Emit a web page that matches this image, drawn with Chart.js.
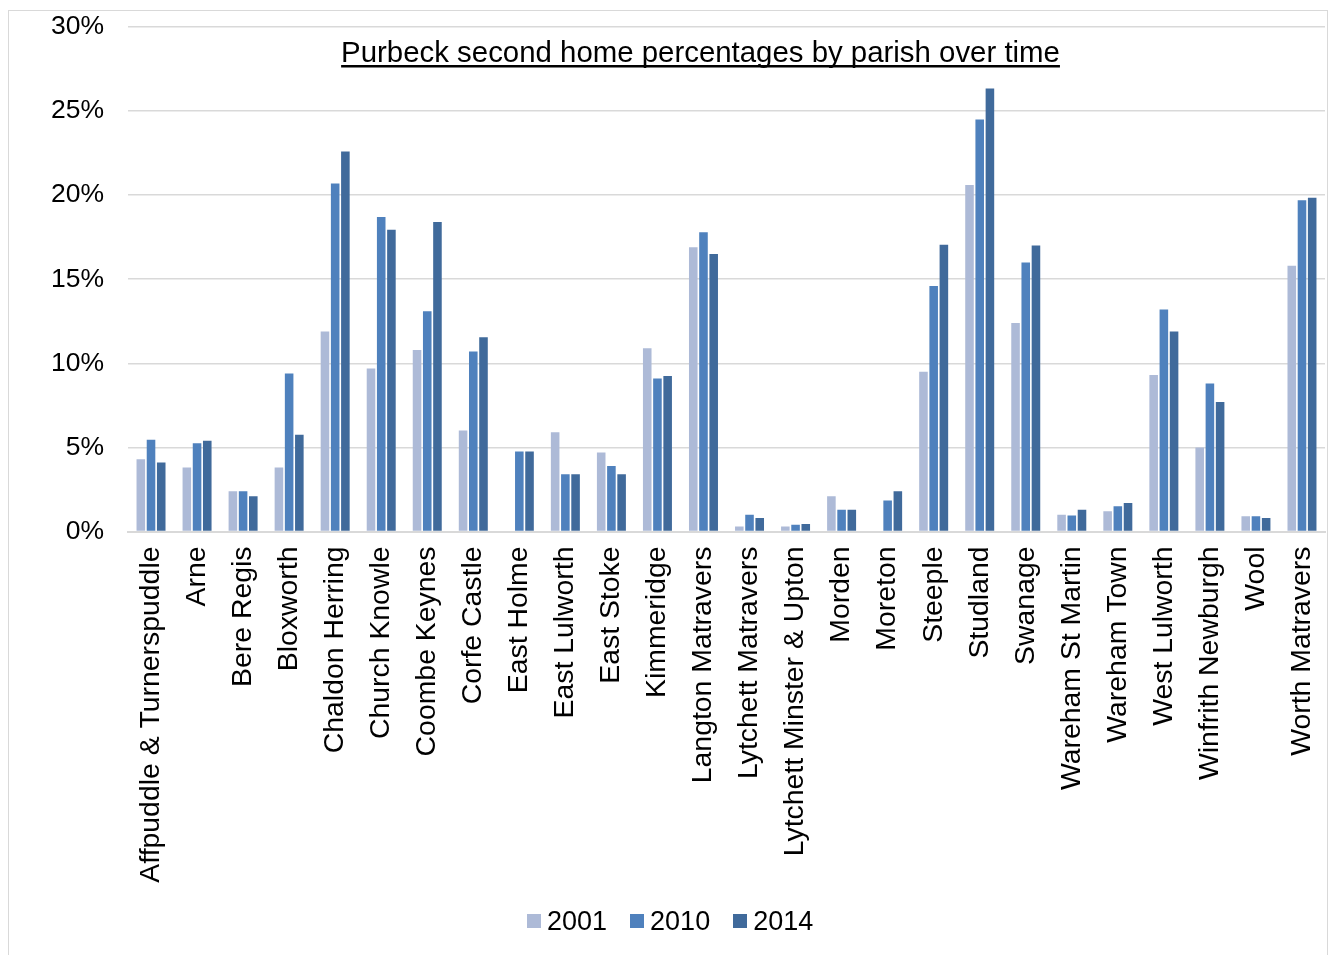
<!DOCTYPE html>
<html>
<head>
<meta charset="utf-8">
<script src="https://cdn.jsdelivr.net/npm/chart.js@4.4.1/dist/chart.umd.min.js"></script>
<style>
  html, body { margin:0; padding:0; background:#fff; overflow:hidden; width:1329px; height:955px; }
  #frame { position:absolute; left:8px; top:10px; width:1318px; height:960px; border:1px solid #d9d9d9; }
  #wrap { position:absolute; left:0; top:0; width:1329px; height:955px; }
  #legend { position:absolute; left:527px; top:901px; height:40px; display:flex; align-items:center;
            font-family:"Liberation Sans", Arial, sans-serif; font-size:27px; color:#000; }
  .item { display:flex; align-items:center; margin-right:23px; }
  .box { width:14px; height:14px; margin-right:6px; }
</style>
</head>
<body>
<div id="frame"></div>
<div id="wrap"><canvas id="c" width="1329" height="955"></canvas></div>
<div id="legend"></div>
<script>
const TITLE = "Purbeck second home percentages by parish over time";
const categories = ["Affpuddle & Turnerspuddle","Arne","Bere Regis","Bloxworth","Chaldon Herring","Church Knowle","Coombe Keynes","Corfe Castle","East Holme","East Lulworth","East Stoke","Kimmeridge","Langton Matravers","Lytchett Matravers","Lytchett Minster & Upton","Morden","Moreton","Steeple","Studland","Swanage","Wareham St Martin","Wareham Town","West Lulworth","Winfrith Newburgh","Wool","Worth Matravers"];
const seriesNames = ["2001","2010","2014"];
const v2001 = [4.3,3.8,2.4,3.8,11.9,9.7,10.8,6.0,0,5.9,4.7,10.9,16.9,0.3,0.3,2.1,0,9.5,20.6,12.4,1.0,1.2,9.3,5.0,0.9,15.8];
const v2010 = [5.45,5.25,2.4,9.4,20.7,18.7,13.1,10.7,4.75,3.4,3.9,9.1,17.8,1.0,0.4,1.3,1.85,14.6,24.5,16.0,0.95,1.5,13.2,8.8,0.9,19.7];
const v2014 = [4.1,5.4,2.1,5.75,22.6,17.95,18.4,11.55,4.75,3.4,3.4,9.25,16.5,0.8,0.45,1.3,2.4,17.05,26.35,17.0,1.3,1.7,11.9,7.7,0.8,19.85];
const yTicks = [0,5,10,15,20,25,30];
const colors = ["#adbad7","#4f81bd","#406a9b"];

const FONT = '"Liberation Sans", Arial, sans-serif';
const values = [v2001, v2010, v2014];

const titlePlugin = {
  id: 'underTitle',
  afterDraw(chart) {
    const ctx = chart.ctx, a = chart.chartArea;
    ctx.save();
    ctx.font = '29.4px ' + FONT;
    ctx.fillStyle = '#000';
    ctx.textAlign = 'center';
    ctx.textBaseline = 'alphabetic';
    const x = a.left + a.width * 0.4783;
    const y = a.top + 35;
    ctx.fillText(TITLE, x, y);
    const w = ctx.measureText(TITLE).width;
    ctx.fillRect(x - w / 2, y + 3, w, 2.5);
    ctx.restore();
  }
};

new Chart(document.getElementById('c'), {
  type: 'bar',
  data: {
    labels: categories,
    datasets: seriesNames.map((n, i) => ({
      label: n,
      data: values[i],
      backgroundColor: colors[i],
      borderWidth: 0,
      categoryPercentage: 0.665,
      barPercentage: 0.84
    }))
  },
  options: {
    responsive: false,
    animation: false,
    devicePixelRatio: 1,
    layout: { padding: { top: 27, right: 4, left: 0, bottom: 0 } },
    plugins: { legend: { display: false }, title: { display: false }, tooltip: { enabled: false } },
    scales: {
      x: {
        grid: { display: false, drawTicks: false },
        border: { display: true, color: '#d9d9d9', width: 2 },
        ticks: {
          autoSkip: false, maxRotation: 90, minRotation: 90, padding: 15,
          color: '#000', font: { family: FONT, size: 28.4 }
        },
        afterFit(s) { s.height = 955 - 531.5; s.paddingLeft = 0; s.paddingRight = 0; }
      },
      y: {
        min: 0, max: 30,
        afterBuildTicks(s) { s.ticks = yTicks.map(v => ({ value: v })); },
        grid: { color: '#d9d9d9', lineWidth: 1.6, drawTicks: false },
        border: { display: false },
        ticks: {
          padding: 24, color: '#000', font: { family: FONT, size: 26.5 },
          callback: v => v + '%'
        },
        afterFit(s) { s.width = 128; s.paddingTop = 0; s.paddingBottom = 0; }
      }
    }
  },
  plugins: [titlePlugin]
});

const lg = document.getElementById('legend');
seriesNames.forEach((n, i) => {
  const it = document.createElement('div'); it.className = 'item';
  const b = document.createElement('div'); b.className = 'box'; b.style.background = colors[i];
  const t = document.createElement('span'); t.textContent = n;
  it.appendChild(b); it.appendChild(t); lg.appendChild(it);
});
</script>
</body>
</html>
